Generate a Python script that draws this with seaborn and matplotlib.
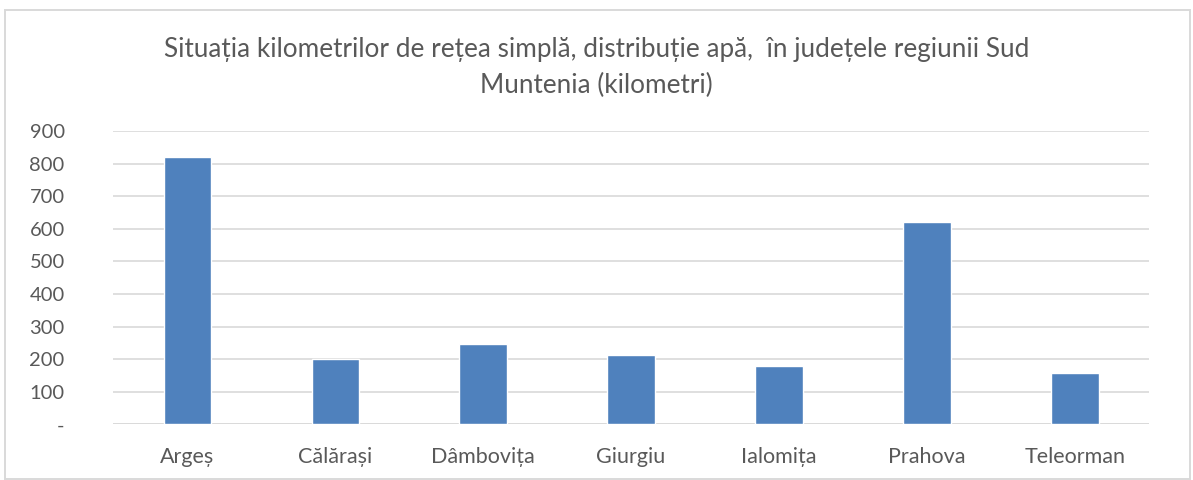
import matplotlib
matplotlib.use("Agg")
import matplotlib.pyplot as plt
import seaborn as sns
import pandas as pd

# Data
judete = ["Argeș", "Călărași", "Dâmbovița", "Giurgiu", "Ialomița", "Prahova", "Teleorman"]
km_retea = [820, 200, 248, 214, 179, 622, 157]
y_ticks = [0, 100, 200, 300, 400, 500, 600, 700, 800, 900]
y_tick_labels = ["-", "100", "200", "300", "400", "500", "600", "700", "800", "900"]

title = ("Situația kilometrilor de rețea simplă, distribuție apă,  în județele regiunii Sud\n"
         "Muntenia (kilometri)")

df = pd.DataFrame({"judet": judete, "km": km_retea})

sns.set_theme(style="white")
plt.rcParams["font.family"] = ["Lato", "DejaVu Sans"]

fig = plt.figure(figsize=(11.93, 4.8), dpi=100)
ax = fig.add_axes([0.095, 0.116, 0.868, 0.611])

sns.barplot(data=df, x="judet", y="km", color="#4F81BD", saturation=1,
            width=0.32, ax=ax, zorder=3)

ax.set_ylim(0, 900)
ax.set_yticks(y_ticks)
ax.set_yticklabels(y_tick_labels)
ax.yaxis.grid(True, color="#D9D9D9", linewidth=1.2, zorder=0)
ax.set_axisbelow(True)
for s in ax.spines.values():
    s.set_visible(False)
ax.axhline(0, color="#D9D9D9", linewidth=1.2, zorder=1)

ax.tick_params(axis="x", length=0, labelsize=15.5, labelcolor="#595959", pad=16)
ax.tick_params(axis="y", length=0, labelsize=14.5, labelcolor="#595959", pad=35)
ax.set_xlabel("")
ax.set_ylabel("")

fig.text(0.5, 0.86, title, ha="center", va="center", fontsize=18.8,
         color="#595959", linespacing=1.55)

# light frame around the chart area, as in the Excel export
border = plt.Rectangle((0.0042, 0.002), 0.993, 0.977, transform=fig.transFigure,
                       fill=False, edgecolor="#D9D9D9", linewidth=1.4)
fig.patches.append(border)

fig.savefig("out.png", dpi=100)
